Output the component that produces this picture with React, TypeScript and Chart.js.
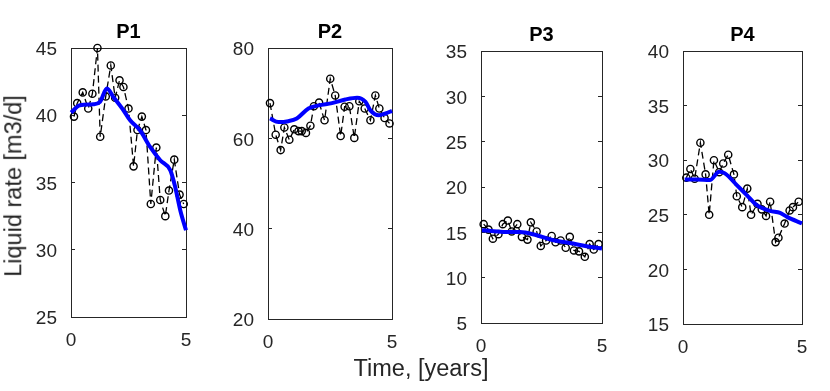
import React, { useEffect, useRef } from "react";
import { Chart, registerables } from "chart.js";

Chart.register(...registerables);

const FONT = '"Liberation Sans", Arial, Helvetica, sans-serif';
const AXIS = "#262626";

// ---- P1 ----
const P1_T = [0.13, 0.27, 0.51, 0.75, 0.93, 1.15, 1.27, 1.51, 1.73, 1.92, 2.11, 2.28, 2.5, 2.72, 2.89, 3.08, 3.26, 3.47, 3.71, 3.88, 4.1, 4.26, 4.49, 4.72, 4.9];
const P1_Q = [39.9, 40.9, 41.7, 40.5, 41.6, 45.0, 38.4, 41.4, 43.7, 41.3, 42.6, 42.1, 40.5, 36.2, 38.9, 39.9, 38.9, 33.4, 37.6, 33.7, 32.5, 34.4, 36.7, 34.1, 33.4];
const P1_FIT_T = [0, 0.39, 0.97, 1.26, 1.56, 1.84, 2.28, 2.57, 3.0, 3.44, 3.88, 4.32, 4.53, 4.75, 5.0];
const P1_FIT_Q = [40.2, 40.74, 40.81, 40.99, 41.98, 41.36, 40.37, 39.62, 38.88, 37.64, 36.65, 35.9, 34.67, 32.94, 31.45];

// ---- P2 ----
const P2_T = [0.08, 0.31, 0.51, 0.66, 0.86, 1.06, 1.23, 1.36, 1.53, 1.71, 1.85, 2.06, 2.28, 2.51, 2.71, 2.93, 3.09, 3.28, 3.48, 3.68, 3.9, 4.13, 4.33, 4.49, 4.7, 4.9];
const P2_Q = [67.8, 60.8, 57.4, 62.4, 59.7, 62.0, 61.6, 61.6, 61.2, 62.8, 67.1, 67.9, 64.0, 73.2, 69.5, 60.5, 67.0, 67.1, 60.1, 68.2, 66.6, 64.0, 69.5, 66.6, 64.5, 63.3];
const P2_FIT_T = [0.08, 0.42, 0.82, 1.16, 1.63, 2.04, 2.58, 3.12, 3.59, 3.93, 4.13, 4.47, 4.74, 5.0];
const P2_FIT_Q = [64.4, 63.6, 63.8, 64.4, 66.6, 67.3, 67.8, 68.6, 69.0, 68.1, 66.2, 65.1, 65.5, 66.1];

// ---- P3 ----
const P3_T = [0.11, 0.31, 0.49, 0.72, 0.9, 1.11, 1.27, 1.5, 1.69, 1.92, 2.06, 2.3, 2.47, 2.69, 2.92, 3.08, 3.29, 3.5, 3.67, 3.84, 4.05, 4.29, 4.49, 4.66, 4.86];
const P3_Q = [15.9, 15.3, 14.3, 14.8, 15.9, 16.3, 15.1, 15.9, 14.5, 14.2, 16.1, 15.1, 13.5, 14.1, 14.6, 13.9, 14.1, 13.3, 14.5, 13.0, 12.9, 12.3, 13.7, 13.1, 13.7];
const P3_FIT_T = [0.04, 0.93, 1.62, 2.3, 2.99, 3.67, 4.36, 5.0];
const P3_FIT_Q = [15.24, 15.05, 15.05, 14.68, 14.13, 13.83, 13.47, 13.22];

// ---- P4 ----
const P4_T = [0.14, 0.31, 0.49, 0.73, 0.95, 1.1, 1.3, 1.52, 1.69, 1.9, 2.14, 2.26, 2.49, 2.7, 2.86, 3.13, 3.31, 3.49, 3.66, 3.89, 4.01, 4.27, 4.48, 4.62, 4.86];
const P4_Q = [28.4, 29.2, 28.3, 31.6, 28.7, 25.0, 30.0, 28.9, 29.7, 30.5, 28.7, 26.7, 25.7, 27.4, 25.0, 26.0, 25.5, 24.9, 26.2, 22.5, 22.9, 24.2, 25.4, 25.7, 26.2];
const P4_FIT_T = [0.07, 0.57, 1.13, 1.52, 1.76, 2.26, 2.68, 3.1, 3.66, 4.08, 4.37, 5.0];
const P4_FIT_Q = [28.24, 28.24, 28.18, 28.94, 28.79, 27.72, 26.8, 25.88, 25.36, 25.17, 24.81, 24.21];

// ---- tick settings ----
const X_MIN = 0;
const X_MAX = 5;
const X_STEP = 5;

const PAD_L = 60;
const PAD_R = 26;
const PAD_T = 32;
const PAD_B = 46;

type PanelDef = {
  title: string;
  t: number[];
  q: number[];
  fitT: number[];
  fitQ: number[];
  yMin: number;
  yMax: number;
  yStep: number;
  left: number;
  top: number;
  right: number;
  bottom: number;
};

const PANELS: PanelDef[] = [
  { title: "P1", t: P1_T, q: P1_Q, fitT: P1_FIT_T, fitQ: P1_FIT_Q, yMin: 25, yMax: 45, yStep: 5, left: 71, top: 48, right: 186, bottom: 317 },
  { title: "P2", t: P2_T, q: P2_Q, fitT: P2_FIT_T, fitQ: P2_FIT_Q, yMin: 20, yMax: 80, yStep: 20, left: 268, top: 48, right: 392, bottom: 319 },
  { title: "P3", t: P3_T, q: P3_Q, fitT: P3_FIT_T, fitQ: P3_FIT_Q, yMin: 5, yMax: 35, yStep: 5, left: 481, top: 51, right: 602, bottom: 323 },
  { title: "P4", t: P4_T, q: P4_Q, fitT: P4_FIT_T, fitQ: P4_FIT_Q, yMin: 15, yMax: 40, yStep: 5, left: 683, top: 51, right: 802, bottom: 324 },
];

function gridOpts() {
  return {
    drawOnChartArea: false,
    drawTicks: true,
    tickLength: -4,
    color: AXIS,
    lineWidth: 1,
  };
}

function Panel({ p }: { p: PanelDef }) {
  const ref = useRef<HTMLCanvasElement | null>(null);
  const w = p.right - p.left + PAD_L + PAD_R;
  const h = p.bottom - p.top + PAD_T + PAD_B;

  useEffect(() => {
    if (!ref.current) return;
    const tickFont = { family: FONT, size: 19 };
    const chart = new Chart(ref.current, {
      type: "line",
      data: {
        datasets: [
          {
            label: "model",
            data: p.fitT.map((t, i) => ({ x: t, y: p.fitQ[i] })),
            borderColor: "#0000ff",
            borderWidth: 4,
            pointRadius: 0,
            cubicInterpolationMode: "monotone",
            fill: false,
            clip: false as any,
            xAxisID: "x",
            yAxisID: "y",
          },
          {
            label: "data",
            data: p.t.map((t, i) => ({ x: t, y: p.q[i] })),
            borderColor: "#000000",
            borderWidth: 1.3,
            borderDash: [7, 4],
            tension: 0,
            pointRadius: 3.6,
            pointBorderWidth: 1.4,
            pointBorderColor: "#000000",
            pointBackgroundColor: "rgba(0,0,0,0)",
            fill: false,
            clip: false as any,
            xAxisID: "x",
            yAxisID: "y",
          },
        ],
      },
      options: {
        responsive: false,
        animation: false,
        devicePixelRatio: 1,
        layout: { padding: 0 },
        events: [],
        plugins: {
          legend: { display: false },
          tooltip: { enabled: false },
          title: {
            display: true,
            text: p.title,
            fullSize: false,
            color: "#000000",
            font: { family: FONT, size: 20, weight: "bold", lineHeight: 1 },
            padding: { top: PAD_T - 26, bottom: 6 },
          },
        },
        scales: {
          x: {
            type: "linear",
            position: "bottom",
            min: X_MIN,
            max: X_MAX,
            ticks: { stepSize: X_STEP, padding: 16, color: AXIS, font: tickFont, maxRotation: 0, autoSkip: false },
            grid: gridOpts(),
            border: { display: true, color: AXIS, width: 1 },
            afterFit: (s: any) => { s.height = PAD_B; },
          },
          x2: {
            type: "linear",
            position: "top",
            min: X_MIN,
            max: X_MAX,
            ticks: { stepSize: X_STEP, display: false },
            grid: gridOpts(),
            border: { display: true, color: AXIS, width: 1 },
            afterFit: (s: any) => { s.height = 0; },
          },
          y: {
            type: "linear",
            position: "left",
            min: p.yMin,
            max: p.yMax,
            ticks: { stepSize: p.yStep, padding: 18, labelOffset: 2, color: AXIS, font: tickFont },
            grid: gridOpts(),
            border: { display: true, color: AXIS, width: 1 },
            afterFit: (s: any) => { s.width = PAD_L; },
          },
          y2: {
            type: "linear",
            position: "right",
            min: p.yMin,
            max: p.yMax,
            ticks: { stepSize: p.yStep, display: false },
            grid: gridOpts(),
            border: { display: true, color: AXIS, width: 1 },
            afterFit: (s: any) => { s.width = PAD_R; },
          },
        },
      } as any,
    });
    return () => chart.destroy();
  }, [p]);

  return (
    <canvas
      ref={ref}
      width={w}
      height={h}
      style={{ position: "absolute", left: p.left - PAD_L, top: p.top - PAD_T, width: w, height: h, display: "block" }}
    />
  );
}

export default function App() {
  return (
    <div style={{ position: "absolute", left: 0, top: 0, width: 830, height: 391, background: "#ffffff", overflow: "hidden", fontFamily: FONT }}>
      {PANELS.map((p) => (
        <Panel key={p.title} p={p} />
      ))}
      <div
        style={{
          position: "absolute",
          left: 14,
          top: 186,
          transform: "translate(-50%, -50%) rotate(-90deg)",
          fontSize: 23.5,
          color: AXIS,
          whiteSpace: "nowrap",
          lineHeight: 1,
        }}
      >
        Liquid rate [m3/d]
      </div>
      <div
        style={{
          position: "absolute",
          left: 421,
          top: 369,
          transform: "translate(-50%, -50%)",
          fontSize: 23.5,
          color: AXIS,
          whiteSpace: "nowrap",
          lineHeight: 1,
        }}
      >
        Time, [years]
      </div>
    </div>
  );
}
